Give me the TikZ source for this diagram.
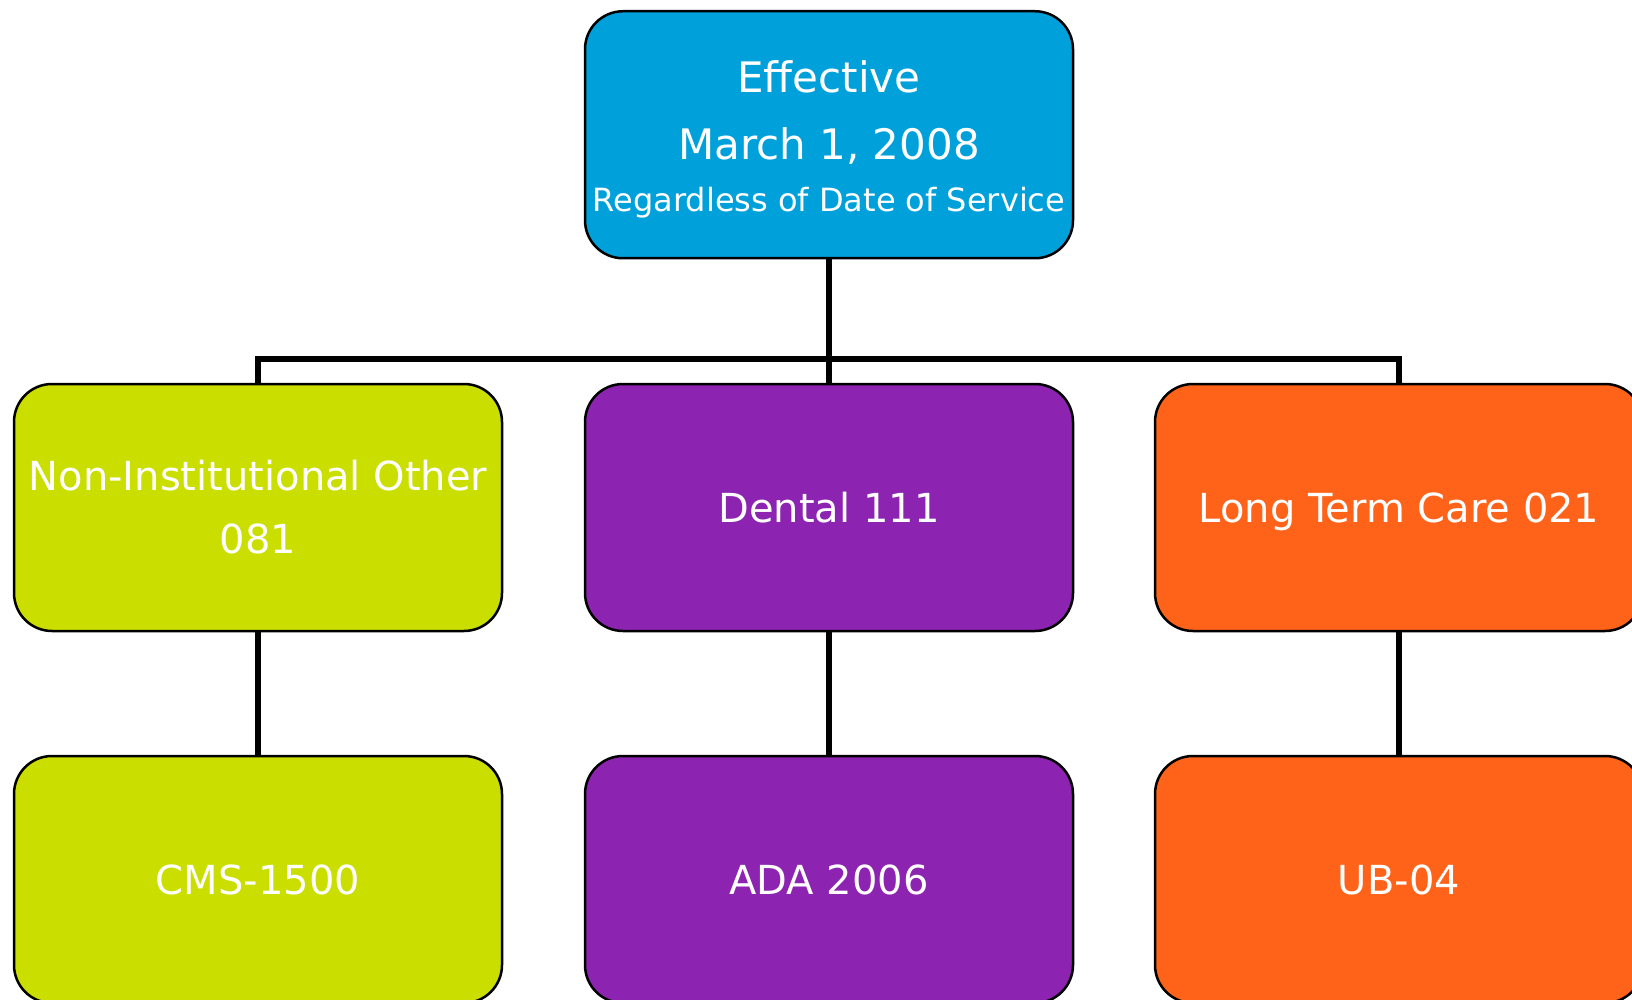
\documentclass[tikz,border=0pt]{standalone}
\usepackage{fontspec}
\setmainfont{DejaVu Sans}
\definecolor{cblue}{RGB}{0,160,218}
\definecolor{cgreen}{RGB}{202,222,0}
\definecolor{cpurple}{RGB}{140,35,177}
\definecolor{corange}{RGB}{255,99,26}
\tikzset{
  box/.style={draw=black, line width=2.5pt, rounded corners=38pt,
    minimum width=488pt, minimum height=247pt, inner sep=0pt,
    text=white, align=center, font=\fontsize{40}{63}\selectfont},
  conn/.style={draw=black, line width=5.5pt, line join=miter}
}
\begin{document}
\begin{tikzpicture}[x=1pt,y=1pt]
\useasboundingbox (0,0) rectangle (1632,-1000);
\clip (0,0) rectangle (1632,-1000);
\fill[white] (0,0) rectangle (1632,-1000);
\coordinate (bus) at (829,-359);
\node[box, fill=cblue, font=\fontsize{42}{67}\selectfont] (top) at (829,-134.75)
  {\rule{0pt}{42pt}Effective\\March 1, 2008\\[-15pt]{\fontsize{32}{52}\selectfont Regardless of Date of Service}};
\node[box, fill=cgreen] (c1) at (258,-507.5) {Non-Institutional Other\\081};
\node[box, fill=cpurple] (c2) at (829,-507.5) {Dental 111};
\node[box, fill=corange, text depth=0pt] (c3) at (1399,-507.5) {Long Term Care 021};
\node[box, fill=cgreen] (d1) at (258,-879.5) {CMS-1500};
\node[box, fill=cpurple] (d2) at (829,-879.5) {ADA 2006};
\node[box, fill=corange] (d3) at (1399,-879.5) {UB-04};
\draw[conn] (top.south) -- (top.south |- bus);
\draw[conn] (c1.north) |- (bus) -| (c3.north);
\draw[conn] (top.south |- bus) -- (c2.north);
\draw[conn] (c1.south) -- (d1.north);
\draw[conn] (c2.south) -- (d2.north);
\draw[conn] (c3.south) -- (d3.north);
\end{tikzpicture}
\end{document}
